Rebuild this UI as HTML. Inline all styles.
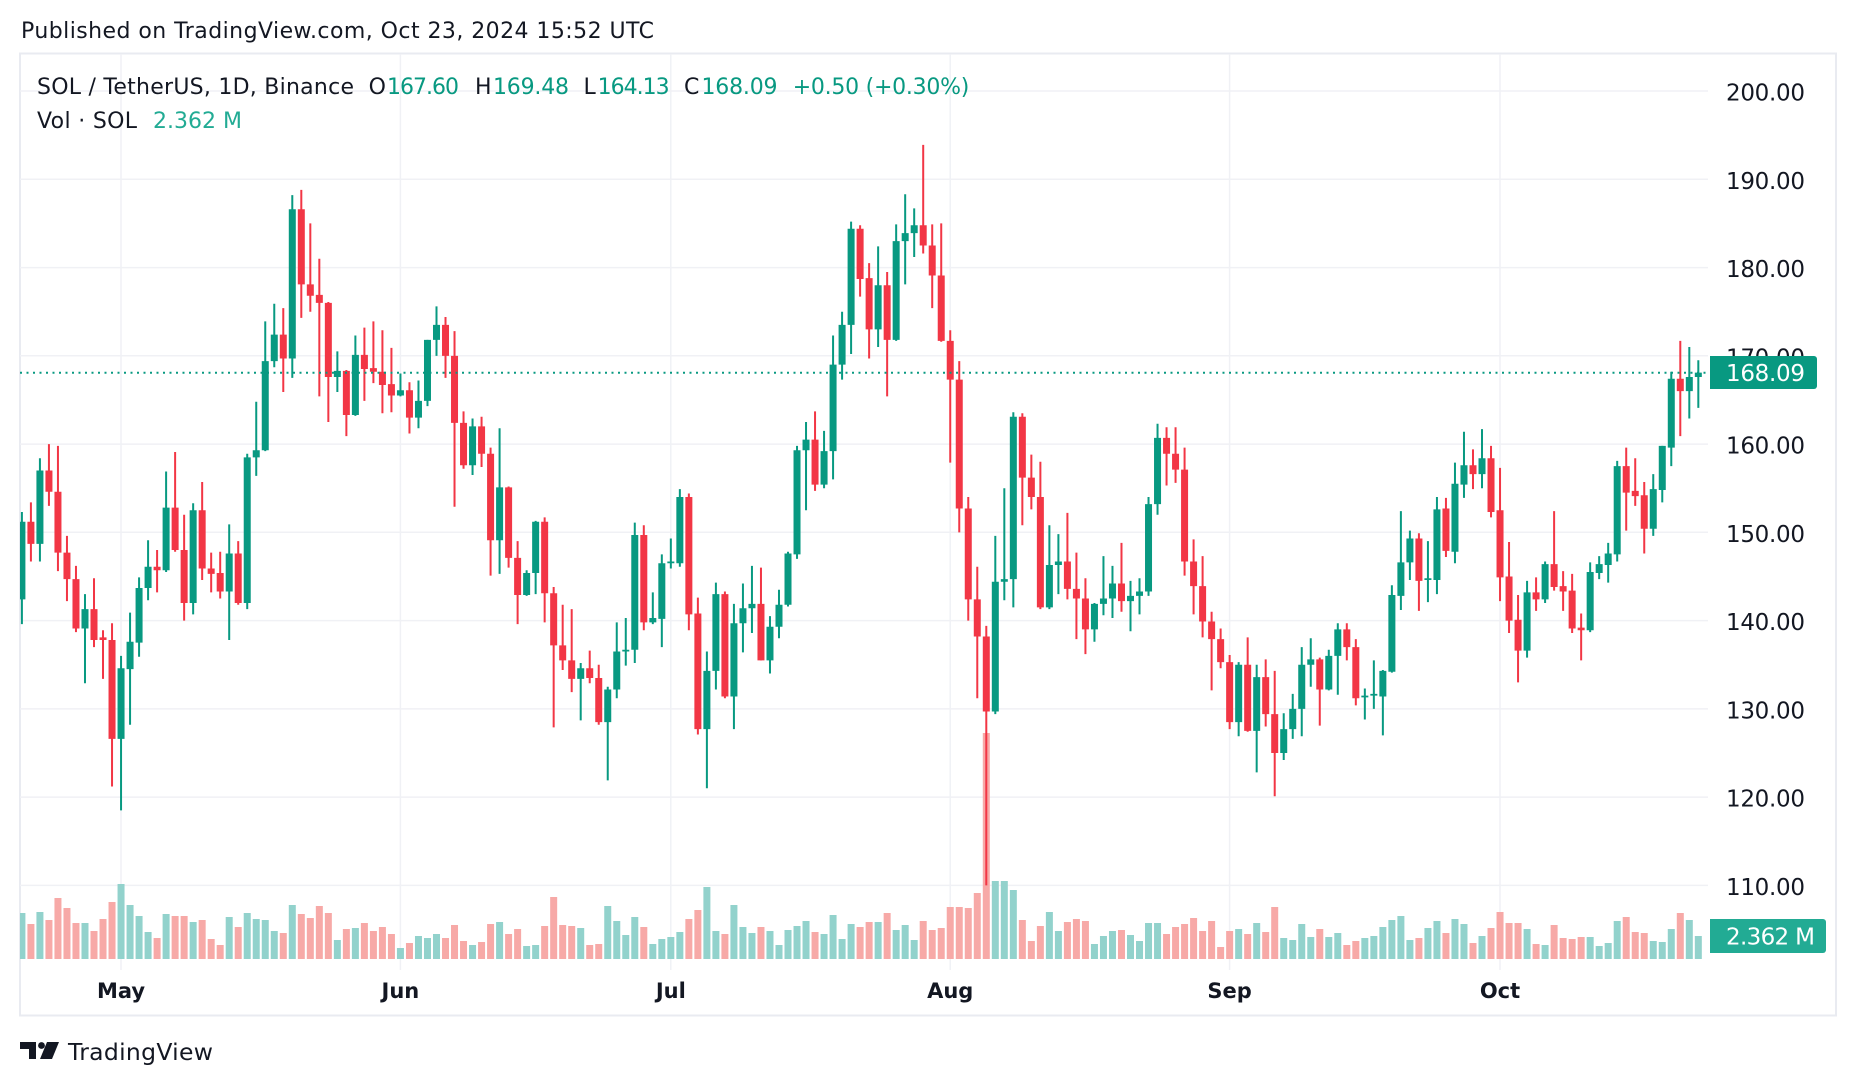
<!DOCTYPE html>
<html><head><meta charset="utf-8"><style>
html,body{margin:0;padding:0;background:#fff;}
svg{display:block;}
text{font-family:"DejaVu Sans","Liberation Sans",sans-serif;}
</style></head><body>
<svg width="1856" height="1086" viewBox="0 0 1856 1086" xmlns="http://www.w3.org/2000/svg">
<defs><clipPath id="pc"><rect x="20" y="53" width="1688" height="917"/></clipPath></defs>
<rect width="1856" height="1086" fill="#fff"/>
<text x="21" y="38" font-size="22" fill="#131722" textLength="633">Published on TradingView.com, Oct 23, 2024 15:52 UTC</text>
<rect x="20" y="53.5" width="1816" height="962" fill="none" stroke="#e9ebf1" stroke-width="2"/>
<g stroke="#f0f1f5" stroke-width="1.5">
<line x1="20" x2="1708" y1="91" y2="91"/><line x1="20" x2="1708" y1="179.3" y2="179.3"/><line x1="20" x2="1708" y1="267.6" y2="267.6"/><line x1="20" x2="1708" y1="355.8" y2="355.8"/><line x1="20" x2="1708" y1="444.1" y2="444.1"/><line x1="20" x2="1708" y1="532.3" y2="532.3"/><line x1="20" x2="1708" y1="620.6" y2="620.6"/><line x1="20" x2="1708" y1="708.9" y2="708.9"/><line x1="20" x2="1708" y1="797.1" y2="797.1"/><line x1="20" x2="1708" y1="885.4" y2="885.4"/>
<line x1="121" x2="121" y1="54" y2="970"/><line x1="400.4" x2="400.4" y1="54" y2="970"/><line x1="670.8" x2="670.8" y1="54" y2="970"/><line x1="950.2" x2="950.2" y1="54" y2="970"/><line x1="1229.6" x2="1229.6" y1="54" y2="970"/><line x1="1500" x2="1500" y1="54" y2="970"/>
</g>
<g clip-path="url(#pc)">
<path fill="#92d2cc" transform="matrix(9.013 0 0 -1 18.4 959)" d="M0 0h.777v46h-.777zM2 0h.777v47h-.777zM7 0h.777v36h-.777zM11 0h.777v75h-.777zM12 0h.777v54h-.777zM13 0h.777v43h-.777zM14 0h.777v27h-.777zM16 0h.777v45h-.777zM19 0h.777v37h-.777zM23 0h.777v42h-.777zM25 0h.777v46h-.777zM26 0h.777v40h-.777zM27 0h.777v39h-.777zM28 0h.777v28h-.777zM30 0h.777v54h-.777zM35 0h.777v19h-.777zM37 0h.777v31h-.777zM42 0h.777v11h-.777zM44 0h.777v23h-.777zM45 0h.777v21h-.777zM46 0h.777v25h-.777zM50 0h.777v14h-.777zM53 0h.777v37h-.777zM56 0h.777v13h-.777zM57 0h.777v14h-.777zM62 0h.777v31h-.777zM65 0h.777v53h-.777zM66 0h.777v38h-.777zM67 0h.777v24h-.777zM68 0h.777v42h-.777zM70 0h.777v15h-.777zM71 0h.777v20h-.777zM72 0h.777v22h-.777zM73 0h.777v27h-.777zM76 0h.777v72h-.777zM77 0h.777v28h-.777zM79 0h.777v54h-.777zM80 0h.777v32h-.777zM81 0h.777v26h-.777zM83 0h.777v28h-.777zM84 0h.777v14h-.777zM85 0h.777v29h-.777zM86 0h.777v33h-.777zM87 0h.777v38h-.777zM89 0h.777v25h-.777zM90 0h.777v44h-.777zM91 0h.777v20h-.777zM92 0h.777v35h-.777zM95 0h.777v37h-.777zM97 0h.777v29h-.777zM98 0h.777v34h-.777zM99 0h.777v19h-.777zM108 0h.777v78h-.777zM109 0h.777v78h-.777zM110 0h.777v69h-.777zM114 0h.777v47h-.777zM115 0h.777v28h-.777zM119 0h.777v15h-.777zM120 0h.777v23h-.777zM121 0h.777v28h-.777zM123 0h.777v24h-.777zM124 0h.777v18h-.777zM125 0h.777v36h-.777zM126 0h.777v36h-.777zM135 0h.777v30h-.777zM137 0h.777v36h-.777zM140 0h.777v21h-.777zM141 0h.777v19h-.777zM142 0h.777v35h-.777zM143 0h.777v22h-.777zM145 0h.777v22h-.777zM146 0h.777v26h-.777zM149 0h.777v21h-.777zM150 0h.777v23h-.777zM151 0h.777v32h-.777zM152 0h.777v39h-.777zM153 0h.777v43h-.777zM154 0h.777v19h-.777zM156 0h.777v31h-.777zM157 0h.777v38h-.777zM159 0h.777v40h-.777zM160 0h.777v35h-.777zM162 0h.777v23h-.777zM167 0h.777v30h-.777zM169 0h.777v14h-.777zM174 0h.777v22h-.777zM175 0h.777v13h-.777zM176 0h.777v16h-.777zM177 0h.777v38h-.777zM181 0h.777v18h-.777zM182 0h.777v17h-.777zM183 0h.777v30h-.777zM185 0h.777v39h-.777zM186 0h.777v23h-.777z"/>
<path fill="#f7a9a7" transform="matrix(9.013 0 0 -1 18.4 959)" d="M1 0h.777v35h-.777zM3 0h.777v39h-.777zM4 0h.777v61h-.777zM5 0h.777v51h-.777zM6 0h.777v36h-.777zM8 0h.777v28h-.777zM9 0h.777v40h-.777zM10 0h.777v57h-.777zM15 0h.777v21h-.777zM17 0h.777v43h-.777zM18 0h.777v43h-.777zM20 0h.777v39h-.777zM21 0h.777v20h-.777zM22 0h.777v14h-.777zM24 0h.777v32h-.777zM29 0h.777v26h-.777zM31 0h.777v45h-.777zM32 0h.777v41h-.777zM33 0h.777v53h-.777zM34 0h.777v46h-.777zM36 0h.777v30h-.777zM38 0h.777v36h-.777zM39 0h.777v28h-.777zM40 0h.777v32h-.777zM41 0h.777v25h-.777zM43 0h.777v16h-.777zM47 0h.777v21h-.777zM48 0h.777v34h-.777zM49 0h.777v18h-.777zM51 0h.777v17h-.777zM52 0h.777v35h-.777zM54 0h.777v25h-.777zM55 0h.777v30h-.777zM58 0h.777v33h-.777zM59 0h.777v62h-.777zM60 0h.777v34h-.777zM61 0h.777v33h-.777zM63 0h.777v14h-.777zM64 0h.777v15h-.777zM69 0h.777v32h-.777zM74 0h.777v40h-.777zM75 0h.777v49h-.777zM78 0h.777v25h-.777zM82 0h.777v32h-.777zM88 0h.777v27h-.777zM93 0h.777v32h-.777zM94 0h.777v37h-.777zM96 0h.777v46h-.777zM100 0h.777v38h-.777zM101 0h.777v29h-.777zM102 0h.777v31h-.777zM103 0h.777v52h-.777zM104 0h.777v52h-.777zM105 0h.777v51h-.777zM106 0h.777v66h-.777zM107 0h.777v226h-.777zM111 0h.777v39h-.777zM112 0h.777v18h-.777zM113 0h.777v33h-.777zM116 0h.777v37h-.777zM117 0h.777v40h-.777zM118 0h.777v38h-.777zM122 0h.777v29h-.777zM127 0h.777v25h-.777zM128 0h.777v32h-.777zM129 0h.777v35h-.777zM130 0h.777v41h-.777zM131 0h.777v28h-.777zM132 0h.777v38h-.777zM133 0h.777v12h-.777zM134 0h.777v28h-.777zM136 0h.777v25h-.777zM138 0h.777v27h-.777zM139 0h.777v52h-.777zM144 0h.777v30h-.777zM147 0h.777v14h-.777zM148 0h.777v18h-.777zM155 0h.777v21h-.777zM158 0h.777v26h-.777zM161 0h.777v16h-.777zM163 0h.777v31h-.777zM164 0h.777v47h-.777zM165 0h.777v36h-.777zM166 0h.777v36h-.777zM168 0h.777v15h-.777zM170 0h.777v34h-.777zM171 0h.777v21h-.777zM172 0h.777v20h-.777zM173 0h.777v22h-.777zM178 0h.777v42h-.777zM179 0h.777v27h-.777zM180 0h.777v26h-.777zM184 0h.777v46h-.777z"/>
<path fill="#089981" transform="matrix(9.013 0 0 -8.826 20.9 1856.24)" d="M0 139.6h.222v12.7h-.222zM2 146.7h.222v11.7h-.222zM7 132.9h.222v10.1h-.222zM11 118.5h.222v17.5h-.222zM12 128.2h.222v12.7h-.222zM13 135.9h.222v9h-.222zM14 142.3h.222v6.8h-.222zM16 145.5h.222v11.4h-.222zM19 140.7h.222v12.6h-.222zM23 137.8h.222v13.1h-.222zM25 141.3h.222v17.6h-.222zM26 156.4h.222v8.4h-.222zM27 159.2h.222v14.7h-.222zM28 168.7h.222v7.2h-.222zM30 167.5h.222v20.7h-.222zM35 165.9h.222v4.6h-.222zM37 163.2h.222v9.1h-.222zM42 165.4h.222v2.6h-.222zM44 161.8h.222v5.4h-.222zM45 164.3h.222v7.5h-.222zM46 170h.222v5.6h-.222zM50 156.5h.222v6.4h-.222zM53 145.3h.222v16.5h-.222zM56 142.8h.222v2.9h-.222zM57 143h.222v8.3h-.222zM62 128.7h.222v6.5h-.222zM65 121.9h.222v10.6h-.222zM66 131.2h.222v8.6h-.222zM67 134.9h.222v5.4h-.222zM68 135.2h.222v15.9h-.222zM70 139.6h.222v3.6h-.222zM71 137h.222v10.5h-.222zM72 145.9h.222v3.4h-.222zM73 146.1h.222v8.8h-.222zM76 121h.222v15.5h-.222zM77 132.2h.222v12.1h-.222zM79 127.7h.222v14.2h-.222zM80 136.4h.222v7.8h-.222zM81 138.6h.222v7.6h-.222zM83 134h.222v6.5h-.222zM84 138h.222v5.5h-.222zM85 141.6h.222v6.2h-.222zM86 147h.222v12.8h-.222zM87 152.5h.222v10h-.222zM89 155h.222v6.5h-.222zM90 156h.222v16.3h-.222zM91 167.3h.222v7.7h-.222zM92 170.2h.222v15h-.222zM95 171h.222v11.4h-.222zM97 171.7h.222v13.2h-.222zM98 178.1h.222v10.2h-.222zM99 181.2h.222v5.5h-.222zM108 129.4h.222v20.2h-.222zM109 142.3h.222v12.7h-.222zM110 141.5h.222v22.1h-.222zM114 141.3h.222v9.5h-.222zM115 143h.222v6.8h-.222zM119 137.6h.222v4.4h-.222zM120 140.6h.222v6.7h-.222zM121 140.3h.222v5.9h-.222zM123 138.8h.222v5.7h-.222zM124 140.7h.222v4.1h-.222zM125 142.8h.222v11.2h-.222zM126 152h.222v10.3h-.222zM135 126.9h.222v8.4h-.222zM137 122.8h.222v12.2h-.222zM140 124.2h.222v5.3h-.222zM141 126.6h.222v5.1h-.222zM142 126.9h.222v10.1h-.222zM143 132.5h.222v5.5h-.222zM145 132.1h.222v4.6h-.222zM146 131.6h.222v8.1h-.222zM149 128.8h.222v3.5h-.222zM150 130h.222v5.5h-.222zM151 127h.222v7.4h-.222zM152 134.1h.222v9.9h-.222zM153 141.2h.222v11.2h-.222zM154 144.6h.222v5.6h-.222zM156 142.1h.222v6.9h-.222zM157 143h.222v11h-.222zM159 146.5h.222v11.4h-.222zM160 153.9h.222v7.5h-.222zM162 155h.222v6.7h-.222zM167 135.8h.222v8.7h-.222zM169 142h.222v4.7h-.222zM174 138.7h.222v7.9h-.222zM175 144.7h.222v2.6h-.222zM176 144.3h.222v4.5h-.222zM177 146.7h.222v11.4h-.222zM181 149.6h.222v7h-.222zM182 153.4h.222v6.4h-.222zM183 157.5h.222v10.7h-.222zM185 162.9h.222v8.1h-.222zM186 164.1h.222v5.4h-.222z"/>
<path fill="#089981" transform="matrix(9.013 0 0 -8.826 18.4 1856.24)" d="M0 142.4h.777v8.8h-.777zM2 148.7h.777v8.3h-.777zM7 139.1h.777v2.2h-.777zM11 126.6h.777v8h-.777zM12 134.5h.777v3.1h-.777zM13 137.5h.777v6.2h-.777zM14 143.7h.777v2.4h-.777zM16 145.7h.777v7.1h-.777zM19 142h.777v10.5h-.777zM23 143.3h.777v4.3h-.777zM25 142h.777v16.5h-.777zM26 158.5h.777v.8h-.777zM27 159.3h.777v10.1h-.777zM28 169.4h.777v3h-.777zM30 169.7h.777v16.9h-.777zM35 167.6h.777v.7h-.777zM37 163.3h.777v6.8h-.777zM42 165.5h.777v.6h-.777zM44 163h.777v1.9h-.777zM45 164.9h.777v6.9h-.777zM46 171.8h.777v1.7h-.777zM50 157.6h.777v4.4h-.777zM53 149.1h.777v6h-.777zM56 142.9h.777v2.5h-.777zM57 145.4h.777v5.8h-.777zM62 133.4h.777v1.2h-.777zM65 128.5h.777v3.7h-.777zM66 132.2h.777v4.3h-.777zM67 136.5h.777v.2h-.777zM68 136.7h.777v13h-.777zM70 139.8h.777v.5h-.777zM71 140.2h.777v6.3h-.777zM72 146.5h.777v.2h-.777zM73 146.5h.777v7.5h-.777zM76 127.7h.777v6.6h-.777zM77 134.3h.777v8.7h-.777zM79 131.4h.777v8.3h-.777zM80 139.7h.777v1.7h-.777zM81 141.4h.777v.5h-.777zM83 135.5h.777v3.8h-.777zM84 139.3h.777v2.5h-.777zM85 141.8h.777v5.8h-.777zM86 147.5h.777v11.8h-.777zM87 159.3h.777v1.2h-.777zM89 155.4h.777v3.8h-.777zM90 159.2h.777v9.8h-.777zM91 169h.777v4.5h-.777zM92 173.5h.777v10.9h-.777zM95 173h.777v5h-.777zM97 171.8h.777v11.2h-.777zM98 183h.777v.9h-.777zM99 183.9h.777v.9h-.777zM108 129.7h.777v14.7h-.777zM109 144.4h.777v.3h-.777zM110 144.7h.777v18.4h-.777zM114 141.5h.777v4.8h-.777zM115 146.3h.777v.4h-.777zM119 139h.777v2.9h-.777zM120 141.9h.777v.6h-.777zM121 142.5h.777v1.7h-.777zM123 142.2h.777v.6h-.777zM124 142.8h.777v.5h-.777zM125 143.3h.777v9.9h-.777zM126 153.2h.777v7.5h-.777zM135 128.5h.777v6.5h-.777zM137 127.5h.777v6.1h-.777zM140 125h.777v2.7h-.777zM141 127.7h.777v2.3h-.777zM142 130h.777v5h-.777zM143 135h.777v.6h-.777zM145 132.2h.777v3.8h-.777zM146 136h.777v3h-.777zM149 131.3h.777v.2h-.777zM150 131.5h.777v.2h-.777zM151 131.4h.777v2.9h-.777zM152 134.2h.777v8.7h-.777zM153 142.8h.777v3.8h-.777zM154 146.6h.777v2.7h-.777zM156 144.6h.777v.2h-.777zM157 144.6h.777v8h-.777zM159 147.8h.777v7.7h-.777zM160 155.4h.777v2.2h-.777zM162 156.6h.777v1.8h-.777zM167 136.6h.777v6.6h-.777zM169 142.4h.777v4h-.777zM174 138.9h.777v6.6h-.777zM175 145.4h.777v1h-.777zM176 146.3h.777v1.3h-.777zM177 147.5h.777v10h-.777zM181 150.4h.777v4.5h-.777zM182 154.8h.777v5h-.777zM183 159.6h.777v7.8h-.777zM185 166h.777v1.6h-.777zM186 167.6h.777v.5h-.777z"/>
<path fill="#f23645" transform="matrix(9.013 0 0 -8.826 20.9 1856.24)" d="M1 146.7h.222v6.7h-.222zM3 153h.222v7h-.222zM4 145.6h.222v14.2h-.222zM5 142.2h.222v7.4h-.222zM6 138.7h.222v7.5h-.222zM8 137h.222v7.8h-.222zM9 133.4h.222v5.5h-.222zM10 121.2h.222v18.5h-.222zM15 143.2h.222v4.8h-.222zM17 147.8h.222v11.3h-.222zM18 140h.222v12h-.222zM20 144.6h.222v11.1h-.222zM21 143.2h.222v4.5h-.222zM22 142.5h.222v5.3h-.222zM24 141.8h.222v7.2h-.222zM29 165.9h.222v9.5h-.222zM31 174.3h.222v14.5h-.222zM32 175h.222v10h-.222zM33 165.4h.222v15.6h-.222zM34 162.5h.222v13.6h-.222zM36 160.9h.222v7.5h-.222zM38 164.9h.222v8.3h-.222zM39 166.9h.222v7h-.222zM40 163.5h.222v9.4h-.222zM41 163.6h.222v7.3h-.222zM43 161.2h.222v5.8h-.222zM47 167.5h.222v6.9h-.222zM48 152.9h.222v19.9h-.222zM49 157.2h.222v6.5h-.222zM51 157.4h.222v5.7h-.222zM52 145.1h.222v14.5h-.222zM54 146h.222v9.2h-.222zM55 139.6h.222v9.4h-.222zM58 139.8h.222v11.9h-.222zM59 127.9h.222v15.9h-.222zM60 134.4h.222v7.4h-.222zM61 131.9h.222v9.4h-.222zM63 132.9h.222v3.7h-.222zM64 128.2h.222v6.8h-.222zM69 138.9h.222v11.9h-.222zM74 138.9h.222v15.5h-.222zM75 127.1h.222v15.5h-.222zM78 131.2h.222v12.1h-.222zM82 135.5h.222v10.5h-.222zM88 154.7h.222v9h-.222zM93 176.7h.222v8.1h-.222zM94 169.7h.222v10.8h-.222zM96 165.4h.222v14.1h-.222zM100 181.6h.222v12.3h-.222zM101 175.4h.222v9.5h-.222zM102 171.6h.222v13.4h-.222zM103 157.9h.222v15h-.222zM104 150h.222v19.4h-.222zM105 140h.222v14h-.222zM106 131.2h.222v14.9h-.222zM107 110h.222v29.4h-.222zM111 150.8h.222v12.7h-.222zM112 152.6h.222v6.2h-.222zM113 141.3h.222v16.7h-.222zM116 142.4h.222v9.8h-.222zM117 137.9h.222v9.8h-.222zM118 136.2h.222v8.6h-.222zM122 141h.222v7.8h-.222zM127 155.3h.222v6.6h-.222zM128 155.6h.222v6.3h-.222zM129 145.1h.222v14.5h-.222zM130 140.7h.222v8.5h-.222zM131 138.1h.222v9.2h-.222zM132 132.1h.222v8.9h-.222zM133 134.6h.222v4.5h-.222zM134 127.7h.222v8.4h-.222zM136 127.4h.222v10.7h-.222zM138 128h.222v7.6h-.222zM139 120.1h.222v14.2h-.222zM144 128.1h.222v7.7h-.222zM147 135.5h.222v4.2h-.222zM148 130.4h.222v7.5h-.222zM155 141.1h.222v8.8h-.222zM158 147.2h.222v6.7h-.222zM161 154.9h.222v4.5h-.222zM163 151.7h.222v8.1h-.222zM164 142.2h.222v15.1h-.222zM165 138.6h.222v10.3h-.222zM166 133h.222v9.9h-.222zM168 141.1h.222v3.8h-.222zM170 143.4h.222v9h-.222zM171 141.1h.222v4.5h-.222zM172 138.6h.222v6.7h-.222zM173 135.5h.222v5.3h-.222zM178 150.2h.222v9.4h-.222zM179 153h.222v5.4h-.222zM180 147.6h.222v8.1h-.222zM184 160.9h.222v10.8h-.222z"/>
<path fill="#f23645" transform="matrix(9.013 0 0 -8.826 18.4 1856.24)" d="M1 148.7h.777v2.5h-.777zM3 154.6h.777v2.4h-.777zM4 147.7h.777v6.9h-.777zM5 144.7h.777v3h-.777zM6 139.1h.777v5.6h-.777zM8 137.8h.777v3.5h-.777zM9 137.8h.777v.3h-.777zM10 126.6h.777v11.2h-.777zM15 145.7h.777v.4h-.777zM17 148h.777v4.8h-.777zM18 142h.777v6h-.777zM20 145.9h.777v6.6h-.777zM21 145.3h.777v.6h-.777zM22 143.3h.777v2.1h-.777zM24 142h.777v5.6h-.777zM29 169.7h.777v2.7h-.777zM31 178.1h.777v8.5h-.777zM32 176.8h.777v1.3h-.777zM33 176h.777v.9h-.777zM34 167.6h.777v8.4h-.777zM36 163.3h.777v5h-.777zM38 168.5h.777v1.6h-.777zM39 168.2h.777v.4h-.777zM40 166.7h.777v1.5h-.777zM41 165.5h.777v1.3h-.777zM43 163h.777v3.1h-.777zM47 170h.777v3.5h-.777zM48 162.4h.777v7.6h-.777zM49 157.6h.777v4.8h-.777zM51 158.9h.777v3.1h-.777zM52 149.1h.777v9.8h-.777zM54 147.1h.777v8h-.777zM55 142.9h.777v4.2h-.777zM58 143.1h.777v8.1h-.777zM59 137.2h.777v5.9h-.777zM60 135.5h.777v1.7h-.777zM61 133.4h.777v2.1h-.777zM63 133.5h.777v1.1h-.777zM64 128.5h.777v5h-.777zM69 139.8h.777v9.9h-.777zM74 140.7h.777v13.3h-.777zM75 127.7h.777v13.1h-.777zM78 131.4h.777v11.6h-.777zM82 135.5h.777v6.4h-.777zM88 155.4h.777v5.1h-.777zM93 178.7h.777v5.7h-.777zM94 173h.777v5.8h-.777zM96 171.8h.777v6.2h-.777zM100 182.5h.777v2.3h-.777zM101 179.1h.777v3.4h-.777zM102 171.7h.777v7.4h-.777zM103 167.3h.777v4.4h-.777zM104 152.7h.777v14.6h-.777zM105 142.4h.777v10.3h-.777zM106 138.2h.777v4.2h-.777zM107 129.7h.777v8.5h-.777zM111 156.2h.777v6.9h-.777zM112 154h.777v2.2h-.777zM113 141.5h.777v12.5h-.777zM116 143.6h.777v3.1h-.777zM117 142.5h.777v1.1h-.777zM118 139h.777v3.5h-.777zM122 142.2h.777v2h-.777zM127 158.9h.777v1.8h-.777zM128 157.1h.777v1.8h-.777zM129 146.7h.777v10.4h-.777zM130 143.9h.777v2.8h-.777zM131 139.9h.777v4h-.777zM132 137.9h.777v2h-.777zM133 135.3h.777v2.6h-.777zM134 128.5h.777v6.8h-.777zM136 127.5h.777v7.5h-.777zM138 129.4h.777v4.2h-.777zM139 125h.777v4.4h-.777zM144 132.2h.777v3.4h-.777zM147 137h.777v2h-.777zM148 131.2h.777v5.8h-.777zM155 144.5h.777v4.8h-.777zM158 147.9h.777v4.8h-.777zM161 156.6h.777v1h-.777zM163 152.3h.777v6.1h-.777zM164 144.9h.777v7.6h-.777zM165 140h.777v5h-.777zM166 136.6h.777v3.5h-.777zM168 142.4h.777v.8h-.777zM170 143.8h.777v2.6h-.777zM171 143.3h.777v.6h-.777zM172 139.1h.777v4.3h-.777zM173 138.9h.777v.3h-.777zM178 154.5h.777v3h-.777zM179 154.1h.777v.6h-.777zM180 150.4h.777v3.8h-.777zM184 166h.777v1.4h-.777z"/>
</g>
<line x1="20" x2="1708" y1="372.7" y2="372.7" stroke="#089981" stroke-width="2" stroke-dasharray="2 4.5"/>
<g font-size="23" fill="#131722" text-anchor="end">
<text x="1805" y="100.5" textLength="79">200.00</text>
<text x="1805" y="188.8" textLength="79">190.00</text>
<text x="1805" y="277.1" textLength="79">180.00</text>
<text x="1805" y="365.3" textLength="79">170.00</text>
<text x="1805" y="453.6" textLength="79">160.00</text>
<text x="1805" y="541.8" textLength="79">150.00</text>
<text x="1805" y="630.1" textLength="79">140.00</text>
<text x="1805" y="718.4" textLength="79">130.00</text>
<text x="1805" y="806.6" textLength="79">120.00</text>
<text x="1805" y="894.9" textLength="79">110.00</text>
</g>
<path d="M1710 356H1814a3 3 0 0 1 3 3V386a3 3 0 0 1 -3 3H1710Z" fill="#089981"/>
<text x="1805" y="381" font-size="23" fill="#fff" text-anchor="end" textLength="79">168.09</text>
<path d="M1710 919H1823a3 3 0 0 1 3 3V950a3 3 0 0 1 -3 3H1710Z" fill="#22ab94"/>
<text x="1815" y="944.5" font-size="23" fill="#fff" text-anchor="end" textLength="89">2.362 M</text>
<g font-size="22" fill="#131722">
<text x="37" y="94" textLength="317">SOL / TetherUS, 1D, Binance</text>
<text x="368.6" y="94">O</text>
<text x="387" y="94" fill="#089981" textLength="72">167.60</text>
<text x="475" y="94">H</text>
<text x="493" y="94" fill="#089981" textLength="76">169.48</text>
<text x="583.5" y="94">L</text>
<text x="597.6" y="94" fill="#089981" textLength="72">164.13</text>
<text x="684" y="94">C</text>
<text x="701.5" y="94" fill="#089981" textLength="76">168.09</text>
<text x="792.7" y="94" fill="#089981" textLength="176.7">+0.50 (+0.30%)</text>
<text x="37" y="128" textLength="100">Vol · SOL</text>
<text x="153" y="128" fill="#22ab94" textLength="89">2.362 M</text>
</g>
<g font-size="21" font-weight="bold" fill="#131722" text-anchor="middle">
<text x="121" y="998">May</text>
<text x="400.4" y="998">Jun</text>
<text x="670.8" y="998">Jul</text>
<text x="950.2" y="998">Aug</text>
<text x="1229.6" y="998">Sep</text>
<text x="1500" y="998">Oct</text>
</g>
<g fill="#131722">
<path d="M20 1042H36V1059H29V1049H20Z"/>
<circle cx="41.5" cy="1045.5" r="3.4"/>
<path d="M47 1042H59L52 1059H40Z"/>
</g>
<text x="68" y="1060" font-size="23.5" fill="#131722" textLength="145">TradingView</text>
</svg>
</body></html>
